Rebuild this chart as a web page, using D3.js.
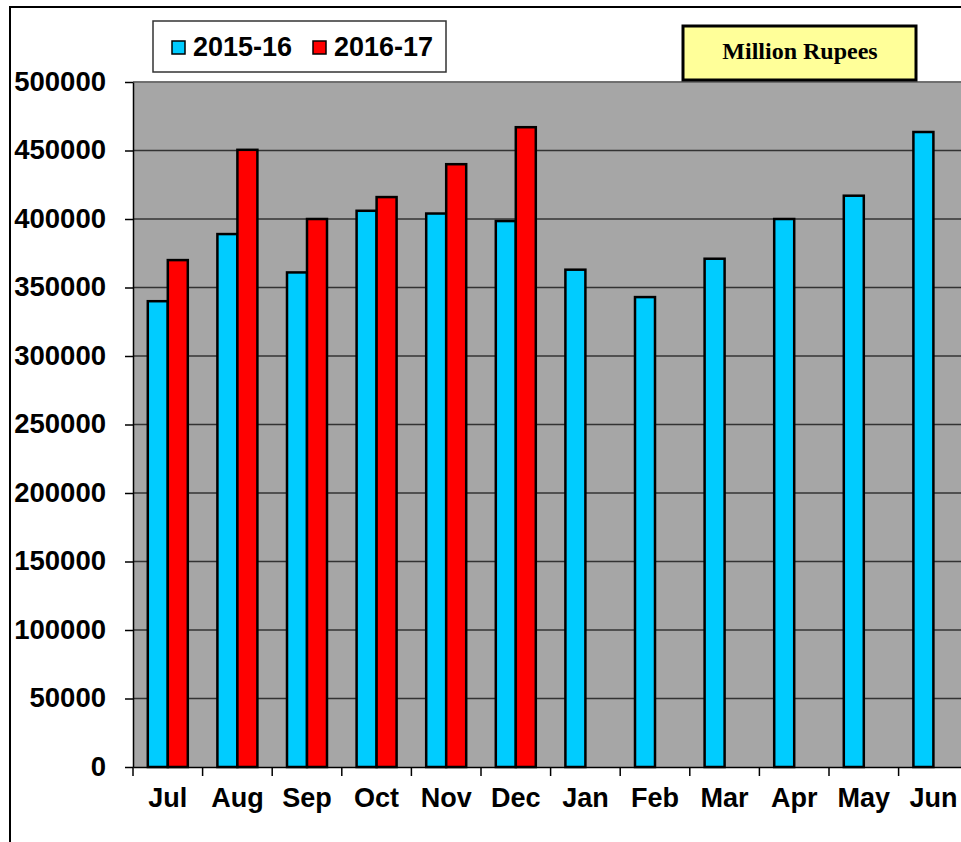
<!DOCTYPE html>
<html lang="en">
<head>
  <meta charset="UTF-8">
  <title>Million Rupees 2015-16 vs 2016-17</title>
  <script src="https://d3js.org/d3.v7.min.js"></script>
  <style>
    body { margin: 0; background: #fff; }
    svg { display: block; font-family: "Liberation Sans", Arial, sans-serif; }
    .axis text { font-weight: bold; fill: #000; }
  </style>
</head>
<body>
  <div id="chart"></div>

  <script>
    const months = ["Jul", "Aug", "Sep", "Oct", "Nov", "Dec", "Jan", "Feb", "Mar", "Apr", "May", "Jun"];
    const seriesNames = ["2015-16", "2016-17"];
    const values1516 = [340000, 389000, 361000, 406000, 404000, 398500, 363000, 343000, 371000, 400000, 417000, 463500];
    const values1617 = [370000, 450500, 400000, 416000, 440000, 467000, null, null, null, null, null, null];
    const yTicks = [0, 50000, 100000, 150000, 200000, 250000, 300000, 350000, 400000, 450000, 500000];
    const colors = ["#00ccff", "#ff0000"];

    const W = 961, H = 842;
    const plot = {left: 133, top: 82, bottom: 767, right: 133 + 12 * 69.6};

    const svg = d3.select("#chart").append("svg")
      .attr("width", W).attr("height", H);

    // outer frame (only top and left visible)
    svg.append("path")
      .attr("d", `M10,${H} V7 H${W}`)
      .attr("fill", "none").attr("stroke", "#000").attr("stroke-width", 2);

    const x = d3.scaleBand().domain(months).range([plot.left, plot.right]).padding(0);
    const xs = d3.scaleBand().domain(seriesNames).range([0, x.bandwidth()]).paddingOuter(0.74).paddingInner(0);
    const y = d3.scaleLinear().domain([0, 500000]).range([plot.bottom, plot.top]);

    // plot background
    svg.append("rect")
      .attr("x", plot.left).attr("y", plot.top)
      .attr("width", plot.right - plot.left).attr("height", plot.bottom - plot.top)
      .attr("fill", "#a6a6a6");

    // gridlines
    svg.append("g").selectAll("line")
      .data(yTicks.slice(1))
      .join("line")
      .attr("x1", plot.left).attr("x2", plot.right)
      .attr("y1", d => y(d)).attr("y2", d => y(d))
      .attr("stroke", "#333").attr("stroke-width", 1.5);

    // top edge of plot
    svg.append("line")
      .attr("x1", plot.left).attr("x2", plot.right)
      .attr("y1", plot.top).attr("y2", plot.top)
      .attr("stroke", "#777").attr("stroke-width", 1.5);

    // bars
    const rows = months.map((m, i) => ({m, vals: [values1516[i], values1617[i]]}));
    svg.append("g").selectAll("g")
      .data(rows)
      .join("g")
      .attr("transform", d => `translate(${x(d.m)},0)`)
      .selectAll("rect")
      .data(d => d.vals.map((v, j) => ({v, j})).filter(e => e.v != null))
      .join("rect")
      .attr("x", d => xs(seriesNames[d.j]))
      .attr("y", d => y(d.v))
      .attr("width", xs.bandwidth())
      .attr("height", d => y(0) - y(d.v))
      .attr("fill", d => colors[d.j])
      .attr("stroke", "#000").attr("stroke-width", 2.5);

    // y axis
    const yAxis = svg.append("g")
      .attr("class", "axis")
      .attr("transform", `translate(${plot.left},0)`)
      .call(d3.axisLeft(y).tickValues(yTicks).tickSize(8).tickPadding(19).tickSizeOuter(0).tickFormat(d3.format("d")));
    yAxis.selectAll("text").style("font-size", "27.5px").attr("dy", "0.3em");
    yAxis.selectAll("line, path").attr("stroke", "#000").attr("stroke-width", 1.5);

    // x axis: labels at band centres, ticks at band edges
    const xAxis = svg.append("g")
      .attr("class", "axis")
      .attr("transform", `translate(0,${plot.bottom})`)
      .call(d3.axisBottom(x).tickSize(0).tickPadding(21));
    xAxis.selectAll("text").style("font-size", "27px");
    xAxis.select("path").attr("stroke", "#000").attr("stroke-width", 1.5);
    xAxis.append("g").selectAll("line")
      .data(months)
      .join("line")
      .attr("x1", d => x(d)).attr("x2", d => x(d))
      .attr("y1", 0).attr("y2", 9)
      .attr("stroke", "#000").attr("stroke-width", 1.5);

    // legend
    const lg = svg.append("g").attr("transform", "translate(153,21)");
    lg.append("rect").attr("width", 293).attr("height", 51)
      .attr("fill", "#fff").attr("stroke", "#333").attr("stroke-width", 1.5);
    const items = lg.selectAll("g.item").data(seriesNames).join("g")
      .attr("class", "item")
      .attr("transform", (d, i) => `translate(${19 + i * 141},0)`);
    items.append("rect").attr("y", 20).attr("width", 13).attr("height", 13)
      .attr("fill", (d, i) => colors[i]).attr("stroke", "#000").attr("stroke-width", 1.5);
    items.append("text").attr("x", 21).attr("y", 35)
      .style("font-size", "27px").style("font-weight", "bold")
      .text(d => d);

    // unit box
    svg.append("rect")
      .attr("x", 683).attr("y", 26).attr("width", 233).attr("height", 54)
      .attr("fill", "#ffff99").attr("stroke", "#000").attr("stroke-width", 3);
    svg.append("text")
      .attr("x", 800).attr("y", 59)
      .attr("text-anchor", "middle")
      .style("font-family", "'Liberation Serif', 'Times New Roman', serif")
      .style("font-weight", "bold").style("font-size", "24px")
      .text("Million Rupees");
  </script>
</body>
</html>
